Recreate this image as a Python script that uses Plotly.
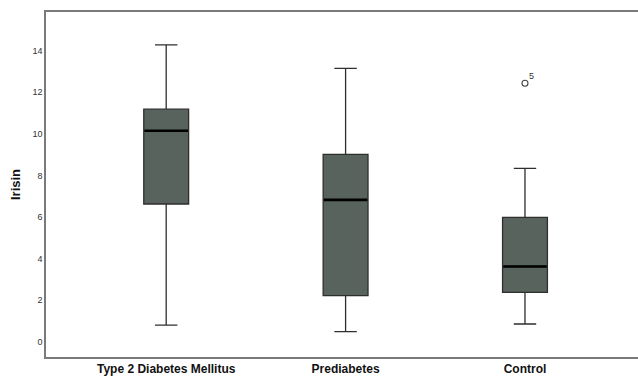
import plotly.graph_objects as go

categories = ["Type 2 Diabetes Mellitus", "Prediabetes", "Control"]
lower_whisker = [0.79, 0.47, 0.84]
q1_vals = [6.62, 2.21, 2.36]
median_vals = [10.15, 6.82, 3.61]
q3_vals = [11.19, 9.01, 5.98]
upper_whisker = [14.29, 13.15, 8.34]
outlier_group = [2]
outlier_vals = [12.44]
outlier_labels = ["5"]
y_ticks = [0, 2, 4, 6, 8, 10, 12, 14]

FILL = "#58635d"
LINE = "#2e2e2e"
FONT = "Liberation Sans, Arial, sans-serif"
pos = list(range(len(categories)))
half = 0.125

fig = go.Figure()
fig.add_trace(go.Box(
    x=pos, q1=q1_vals, median=median_vals, q3=q3_vals,
    lowerfence=lower_whisker, upperfence=upper_whisker,
    width=0.25, whiskerwidth=0.5,
    fillcolor=FILL, line=dict(color=LINE, width=1.3),
    boxpoints=False, showlegend=False, hoverinfo="skip",
))
# thicker black medians
mx, my = [], []
for p, m in zip(pos, median_vals):
    mx += [p - half + 0.004, p + half - 0.004, None]
    my += [m, m, None]
fig.add_trace(go.Scatter(x=mx, y=my, mode="lines",
                         line=dict(color="black", width=2.6),
                         showlegend=False, hoverinfo="skip"))
fig.add_trace(go.Scatter(
    x=outlier_group, y=outlier_vals, mode="markers",
    marker=dict(symbol="circle-open", size=6, color="#444", line=dict(width=1.1)),
    showlegend=False, hoverinfo="skip"))
for gx, gy, lab in zip(outlier_group, outlier_vals, outlier_labels):
    fig.add_annotation(x=gx, y=gy, text=lab, showarrow=False, xshift=7, yshift=7,
                       font=dict(size=9, color="#333", family=FONT))

fig.update_layout(
    width=638, height=376,
    margin=dict(l=46, r=0, t=12, b=19),
    paper_bgcolor="white", plot_bgcolor="white",
    font=dict(family=FONT, color="#222"),
    xaxis=dict(range=[-0.67, 2.63], tickmode="array", tickvals=pos, ticktext=categories,
               showgrid=False, zeroline=False, showline=True, mirror=True,
               linecolor="#7a7a7a", linewidth=1.5, ticks="", automargin=False,
               tickfont=dict(size=12, color="#111", family=FONT, weight="bold")),
    yaxis=dict(range=[-0.75, 15.87], tickmode="array", tickvals=y_ticks,
               showgrid=False, zeroline=False, showline=True, mirror=False,
               linecolor="#7a7a7a", linewidth=1.5, ticks="", automargin=False,
               tickfont=dict(size=9, color="#333", family=FONT),
               title=dict(text="Irisin", standoff=9,
                          font=dict(size=13, color="#111", family=FONT, weight="bold"))),
)
fig.write_html("out.html", config={"displayModeBar": False},
               post_script="document.body.style.margin='0px';")
